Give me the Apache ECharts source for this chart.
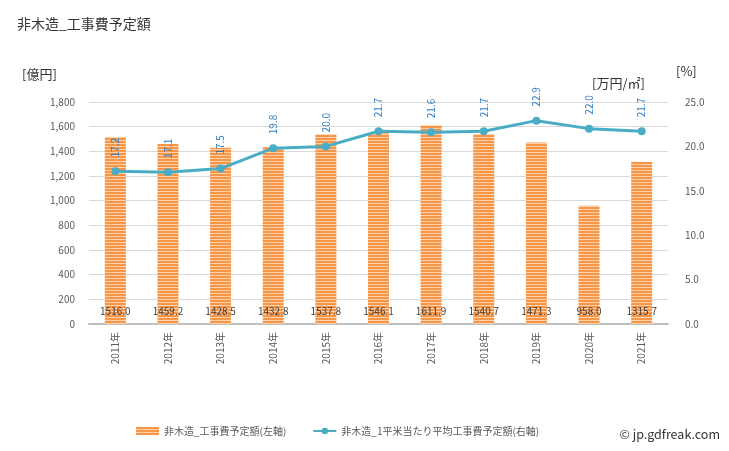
<!DOCTYPE html>
<html><head><meta charset="utf-8">
<script src="https://cdn.jsdelivr.net/npm/echarts@6/dist/echarts.min.js"></script>
<style>html,body{margin:0;padding:0;background:#fff}#c{width:729px;height:451px}</style>
</head><body><div id="c"></div>
<script>
const categories = ['2011年','2012年','2013年','2014年','2015年','2016年','2017年','2018年','2019年','2020年','2021年'];
const costValues = [1516.0,1459.2,1428.5,1432.8,1537.8,1546.1,1611.9,1540.7,1471.3,958.0,1315.7];
const perSqmValues = [17.2,17.1,17.5,19.8,20.0,21.7,21.6,21.7,22.9,22.0,21.7];
const barName = '非木造_工事費予定額(左軸)';
const lineName = '非木造_1平米当たり平均工事費予定額(右軸)';

const font = '"Noto Sans CJK JP", "Noto Sans", sans-serif';
const cv = document.createElement('canvas');
cv.width = 4; cv.height = 3;
const cx = cv.getContext('2d');
cx.fillStyle = '#f79646'; cx.fillRect(0,0,4,2);
cx.fillStyle = '#fcd1ac'; cx.fillRect(0,2,4,1);
const stripe = {image: cv, repeat: 'repeat'};

const chart = echarts.init(document.getElementById('c'));
chart.setOption({
  animation: false,
  textStyle: {fontFamily: font},
  title: {text: '非木造_工事費予定額', left: 12, top: 12, textStyle: {fontSize: 14, fontWeight: 'normal', color: '#333', fontFamily: font}},
  grid: {left: 89, right: 61, top: 102, bottom: 127},
  legend: {
    bottom: 10, left: 131, itemGap: 26, itemWidth: 23, itemHeight: 8,
    textStyle: {fontSize: 10, color: '#595959', fontFamily: font},
    data: [{name: barName, icon: 'rect'}, {name: lineName}]
  },
  graphic: [
    {type: 'text', left: 22, top: 68, style: {text: '[億円]', fontSize: 13, fill: '#333', fontFamily: font}},
    {type: 'text', left: 592, top: 77, style: {text: '[万円/㎡]', fontSize: 13, fill: '#333', fontFamily: font}},
    {type: 'text', left: 676, top: 65, style: {text: '[%]', fontSize: 13, fill: '#333', fontFamily: font}},
    {type: 'text', right: 9, bottom: 10, style: {text: '© jp.gdfreak.com', fontSize: 12.5, fill: '#333', fontFamily: font}}
  ],
  xAxis: {
    type: 'category', data: categories,
    axisLine: {lineStyle: {color: '#bfbfbf', width: 2}},
    axisTick: {show: false},
    axisLabel: {rotate: 90, fontSize: 10, color: '#595959', margin: 8}
  },
  yAxis: [
    {type: 'value', min: 0, max: 1800, interval: 200,
     axisLabel: {fontSize: 10, color: '#595959', margin: 14, formatter: v => v.toLocaleString('en-US')},
     splitLine: {lineStyle: {color: '#d9d9d9'}}, axisLine: {show: false}, axisTick: {show: false}},
    {type: 'value', min: 0, max: 25, interval: 5,
     axisLabel: {fontSize: 10, color: '#595959', margin: 17, formatter: v => v.toFixed(1)},
     splitLine: {show: false}, axisLine: {show: false}, axisTick: {show: false}}
  ],
  series: [
    {name: barName, type: 'bar', data: costValues, barWidth: 21, yAxisIndex: 0,
     itemStyle: {color: stripe},
     label: {show: true, position: 'insideBottom', distance: 8, fontSize: 10, color: '#404040', formatter: p => p.value.toFixed(1)}},
    {name: lineName, type: 'line', data: perSqmValues, yAxisIndex: 1,
     symbol: 'circle', symbolSize: 8,
     lineStyle: {color: '#4bacc6', width: 3}, itemStyle: {color: '#4bacc6'},
     label: {show: true, position: 'top', distance: 10, rotate: 90, align: 'left', verticalAlign: 'middle',
             fontSize: 10, color: '#2e7dc4', formatter: p => p.value.toFixed(1)}}
  ]
});
</script></body></html>
